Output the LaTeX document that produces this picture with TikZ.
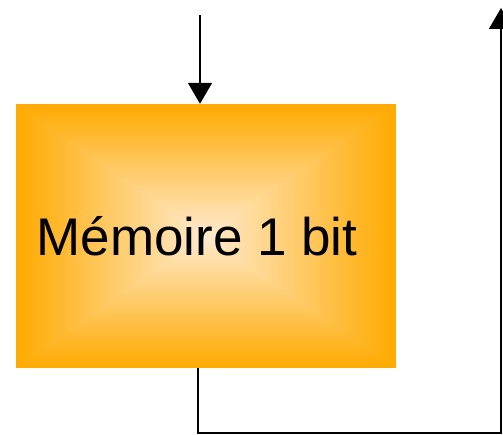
\documentclass[tikz,border=0pt]{standalone}
\usepackage{fontspec}
\setmainfont{Liberation Sans}
\usetikzlibrary{arrows.meta}
\definecolor{MemOrange}{HTML}{FFAA00}
\definecolor{MemCream}{HTML}{FFEACD}

\tikzset{
  wire/.style={line width=1.6pt,black},
  arr/.style={wire,-{Triangle[length=21pt,width=24pt]}},
  membox/.style={minimum width=380pt,minimum height=264pt,inner sep=0pt,
    path picture={
      \begin{scope}[shift={(path picture bounding box.center)}]
      \foreach \k in {0,...,79}{
        \pgfmathsetmacro\f{1-\k/80}
        \pgfmathsetmacro\p{\k*100/79}
        \fill[MemCream!\p!MemOrange] (-190*\f,-132*\f) rectangle (190*\f,132*\f);
      }
      \end{scope}
    }}
}

\begin{document}
\begin{tikzpicture}[x=1pt,y=-1pt,font=\fontsize{53pt}{60pt}\selectfont]
\useasboundingbox (0,0) rectangle (503,435);
\node[membox,label={[xshift=-9pt,inner sep=0pt]center:Mémoire 1 bit}] (mem) at (206,236) {};
% input and feedback path
\coordinate (in) at (200,15);
\coordinate (tap) at (198,0);
\coordinate (corner) at (501,433);
\coordinate (fb) at (501,8);
\draw[arr] (in) -- (in |- mem.north);
\draw[arr] (tap |- mem.south) |- (corner) -- (fb);
\end{tikzpicture}
\end{document}
